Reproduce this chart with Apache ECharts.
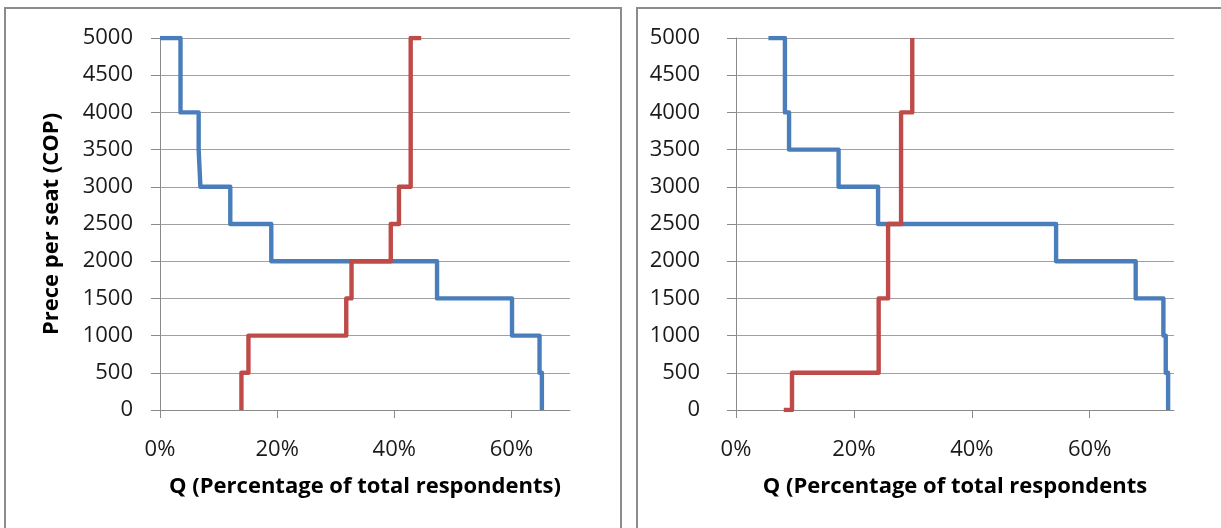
<!DOCTYPE html>
<html>
<head>
<meta charset="utf-8">
<script src="https://cdn.jsdelivr.net/npm/echarts@6/dist/echarts.min.js"></script>
<style>
  html, body { margin: 0; padding: 0; background: #fff; }
  #chart { width: 1221px; height: 528px; }
</style>
</head>
<body>
<div id="chart"></div>
<script>
// ---- data ----
const prices = [5000, 4500, 4000, 3500, 3000, 2500, 2000, 1500, 1000, 500, 0];
const xTicks = [0, 20, 40, 60];

const leftDemandStart = 0;
const leftDemand = [3.5, 3.5, 6.6, 6.9, 12.0, 19.0, 47.3, 60.1, 64.8, 65.2, 65.2];
const leftSupplyStart = 44.6;
const leftSupply = [42.8, 42.8, 42.8, 42.8, 40.8, 39.4, 32.7, 31.8, 15.1, 13.9, 13.9];

const rightDemandStart = 5.5;
const rightDemand = [8.3, 8.3, 9.0, 17.4, 24.1, 54.3, 67.8, 72.5, 72.9, 73.3, 73.3];
const rightSupplyStart = 29.9;
const rightSupply = [29.9, 29.9, 28.0, 28.0, 28.0, 25.8, 25.8, 24.2, 24.2, 9.5, 8.1];

const xTitle = 'Q (Percentage of total respondents)';
const xTitleRight = 'Q (Percentage of total respondents';
const yTitle = 'Prece per seat (COP)';

// step path: horizontal at each price level to q[i], then vertical to next level
function stepPoints(start, q, p) {
  const pts = [[start, p[0]]];
  for (let i = 0; i < p.length; i++) {
    pts.push([q[i], p[i]]);
    if (i < p.length - 1) pts.push([q[i], p[i + 1]]);
  }
  return pts;
}

const FONT = 'Open Sans';
const BLUE = '#4a7ebb';
const RED = '#be4b48';
const GRID = '#a0a0a0';

function xAxisCfg(gridIndex, max, name) {
  return {
    type: 'value', gridIndex: gridIndex, min: 0, max: max, interval: 20,
    name: name, nameLocation: 'middle', nameGap: 66,
    nameTextStyle: { fontFamily: FONT, fontWeight: 'bold', fontSize: 22, color: '#000' },
    axisLine: { show: true, lineStyle: { color: '#8a8a8a', width: 1 } },
    axisTick: { show: true, length: 8, customValues: xTicks, lineStyle: { color: '#8a8a8a' } },
    axisLabel: { customValues: xTicks, formatter: '{value}%', margin: 29,
      fontFamily: FONT, fontSize: 22, color: '#1a1a1a' },
    splitLine: { show: false }
  };
}
function yAxisCfg(gridIndex, margin, name) {
  const a = {
    type: 'value', gridIndex: gridIndex, min: 0, max: 5000, interval: 500,
    axisLine: { show: true, lineStyle: { color: '#8a8a8a', width: 1 } },
    axisTick: { show: true, length: 9, lineStyle: { color: '#8a8a8a' } },
    axisLabel: { margin: margin, formatter: function (v) { return String(v); },
      fontFamily: FONT, fontSize: 22, color: '#1a1a1a' },
    splitLine: { show: true, lineStyle: { color: GRID, width: 1.2 } }
  };
  if (name) {
    a.name = name; a.nameLocation = 'middle'; a.nameGap = 97; a.nameRotate = 90;
    a.nameTextStyle = { fontFamily: FONT, fontWeight: 'bold', fontSize: 22, color: '#000' };
  }
  return a;
}
function lineSeries(idx, color, pts) {
  return {
    type: 'line', xAxisIndex: idx, yAxisIndex: idx, data: pts,
    showSymbol: false, symbol: 'none', animation: false,
    lineStyle: { color: color, width: 4.4, join: 'round', cap: 'butt' }
  };
}

const chart = echarts.init(document.getElementById('chart'), null, { renderer: 'canvas' });
chart.setOption({
  backgroundColor: '#fff',
  animation: false,
  graphic: [
    { type: 'rect', shape: { x: 5, y: 8, width: 616, height: 540 },
      style: { fill: 'none', stroke: '#8c8c8c', lineWidth: 2 }, z: 0 },
    { type: 'rect', shape: { x: 637, y: 8, width: 620, height: 540 },
      style: { fill: 'none', stroke: '#8c8c8c', lineWidth: 2 }, z: 0 }
  ],
  grid: [
    { left: 160, right: 651, top: 38, bottom: 118 },
    { left: 736, right: 47, top: 38, bottom: 118 }
  ],
  xAxis: [xAxisCfg(0, 70, xTitle), xAxisCfg(1, 74.3, xTitleRight)],
  yAxis: [yAxisCfg(0, 27, yTitle), yAxisCfg(1, 36, null)],
  series: [
    lineSeries(0, BLUE, stepPoints(leftDemandStart, leftDemand, prices)),
    lineSeries(0, RED, stepPoints(leftSupplyStart, leftSupply, prices)),
    lineSeries(1, BLUE, stepPoints(rightDemandStart, rightDemand, prices)),
    lineSeries(1, RED, stepPoints(rightSupplyStart, rightSupply, prices))
  ]
});
</script>
</body>
</html>
